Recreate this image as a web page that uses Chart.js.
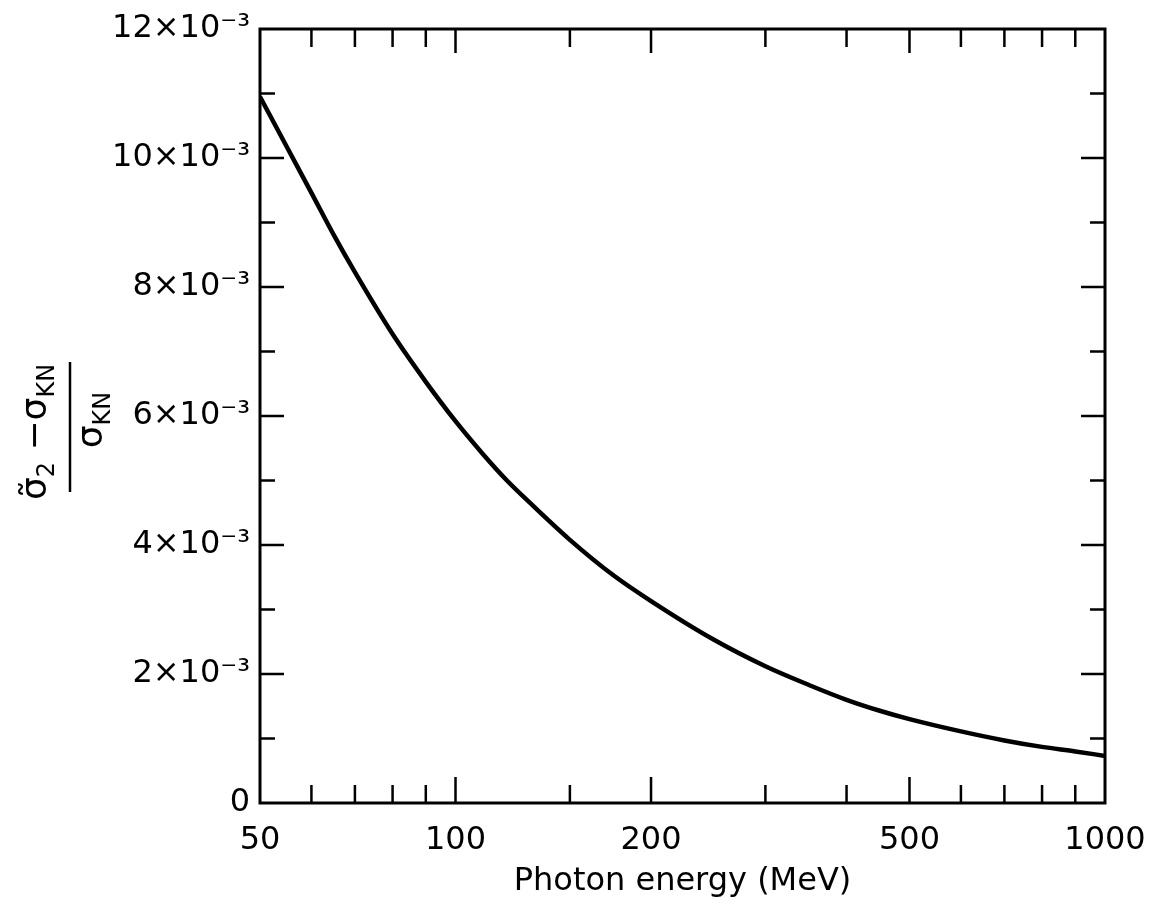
<!DOCTYPE html>
<html><head><meta charset="utf-8">
<script src="https://cdn.jsdelivr.net/npm/chart.js@4/dist/chart.umd.min.js"></script>
<style>html,body{margin:0;padding:0;background:#fff}#wrap{width:1152px;height:905px}</style>
</head><body><div id="wrap"><canvas id="c" width="1152" height="905"></canvas></div>
<script>
// Photon energy (MeV)
const energies = [50,55,60,65,70,80,90,100,110,120,130,150,175,200,250,300,350,400,450,500,600,700,800,900,1000];
// (σ̃2 − σKN)/σKN, in units of 10^-3
const ratioValues = [10.95,10.17,9.46,8.80,8.23,7.27,6.53,5.92,5.42,5.00,4.66,4.08,3.53,3.13,2.53,2.12,1.83,1.60,1.43,1.30,1.11,0.97,0.87,0.80,0.73];
// x-axis ticks
const xTickValues = [50,60,70,80,90,100,150,200,300,400,500,600,700,800,900,1000];
const xTickLabels = [50,100,200,500,1000];
const xMajorTicks = [100,200,500];
// y-axis ticks (units of 10^-3)
const yTickValues = [0,1,2,3,4,5,6,7,8,9,10,11,12];
const yTickLabels = {0:'0',2:'2×10⁻³',4:'4×10⁻³',6:'6×10⁻³',8:'8×10⁻³',10:'10×10⁻³',12:'12×10⁻³'};
const xTitle = 'Photon energy (MeV)';
const yTitleNumerator = [{t:'σ̃'},{t:'2',sub:true},{t:' −σ'},{t:'KN',sub:true}];
const yTitleDenominator = [{t:'σ'},{t:'KN',sub:true}];

const FONT = "'DejaVu Sans', sans-serif";

const framePlugin = {
  id: 'frame',
  afterDatasetsDraw(chart) {
    const {ctx, chartArea: a, scales} = chart;
    ctx.save();
    ctx.strokeStyle = '#000';
    ctx.lineWidth = 3;
    ctx.strokeRect(a.left, a.top, a.right - a.left, a.bottom - a.top);
    ctx.lineWidth = 2.5;
    scales.x.ticks.forEach(tk => {
      const v = tk.value;
      if (v === 50 || v === 1000) return;
      const px = scales.x.getPixelForValue(v);
      const major = xMajorTicks.includes(v);
      ctx.beginPath();
      ctx.moveTo(px, a.bottom); ctx.lineTo(px, a.bottom - (major ? 26 : 18));
      ctx.moveTo(px, a.top); ctx.lineTo(px, a.top + (major ? 24 : 18));
      ctx.stroke();
    });
    scales.y.ticks.forEach(tk => {
      const v = tk.value;
      if (v === 0 || v === 12) return;
      const py = scales.y.getPixelForValue(v);
      const L = (v % 2 === 0) ? 24 : 15;
      ctx.beginPath();
      ctx.moveTo(a.left, py); ctx.lineTo(a.left + L, py);
      ctx.moveTo(a.right, py); ctx.lineTo(a.right - L, py);
      ctx.stroke();
    });
    ctx.restore();
  },
  afterDraw(chart) {
    const ctx = chart.ctx;
    const main = 36, sub = 24, subDrop = 8;
    function width(segs) {
      let w = 0;
      segs.forEach(s => { ctx.font = (s.sub ? sub : main) + 'px ' + FONT; w += ctx.measureText(s.t).width; });
      return w;
    }
    function draw(segs, cx, by) {
      let x = cx - width(segs) / 2;
      segs.forEach(s => {
        ctx.font = (s.sub ? sub : main) + 'px ' + FONT;
        ctx.fillText(s.t, x, by + (s.sub ? subDrop : 0));
        x += ctx.measureText(s.t).width;
      });
    }
    ctx.save();
    ctx.fillStyle = '#000';
    ctx.strokeStyle = '#000';
    ctx.textBaseline = 'alphabetic';
    ctx.textAlign = 'left';
    ctx.translate(70, 428);
    ctx.rotate(-Math.PI / 2);
    draw(yTitleNumerator, -4, -24);
    ctx.lineWidth = 2.5;
    ctx.beginPath(); ctx.moveTo(-64, 0); ctx.lineTo(66, 0); ctx.stroke();
    draw(yTitleDenominator, 8, 32);
    ctx.restore();
  }
};

new Chart(document.getElementById('c'), {
  type: 'line',
  data: {
    datasets: [{
      data: energies.map((e, i) => ({x: e, y: ratioValues[i]})),
      borderColor: '#000',
      borderWidth: 4.5,
      pointRadius: 0,
      tension: 0.4,
      cubicInterpolationMode: 'monotone',
      fill: false
    }]
  },
  options: {
    responsive: false,
    animation: false,
    devicePixelRatio: 1,
    layout: {padding: {top: 29, right: 47, left: 0, bottom: 0}},
    plugins: {legend: {display: false}, tooltip: {enabled: false}},
    scales: {
      x: {
        type: 'logarithmic', min: 50, max: 1000,
        afterBuildTicks: s => { s.ticks = xTickValues.map(v => ({value: v})); },
        afterFit: s => { s.height = 102; s.paddingLeft = 0; s.paddingRight = 0; },
        grid: {display: false, drawTicks: false},
        border: {display: false},
        ticks: {
          autoSkip: false, maxRotation: 0, minRotation: 0, padding: 18,
          color: '#000', font: {family: FONT, size: 32},
          callback: v => xTickLabels.includes(v) ? String(v) : ''
        },
        title: {display: true, text: xTitle, color: '#000', font: {family: FONT, size: 32}, padding: {top: 0, bottom: 4}}
      },
      y: {
        type: 'linear', min: 0, max: 12,
        afterBuildTicks: s => { s.ticks = yTickValues.map(v => ({value: v})); },
        afterFit: s => { s.width = 260; s.paddingTop = 0; s.paddingBottom = 0; },
        grid: {display: false, drawTicks: false},
        border: {display: false},
        ticks: {
          autoSkip: false, padding: 10,
          color: '#000', font: {family: FONT, size: 32},
          callback: v => yTickLabels[v] !== undefined ? yTickLabels[v] : ''
        }
      }
    }
  },
  plugins: [framePlugin]
});
</script></body></html>
